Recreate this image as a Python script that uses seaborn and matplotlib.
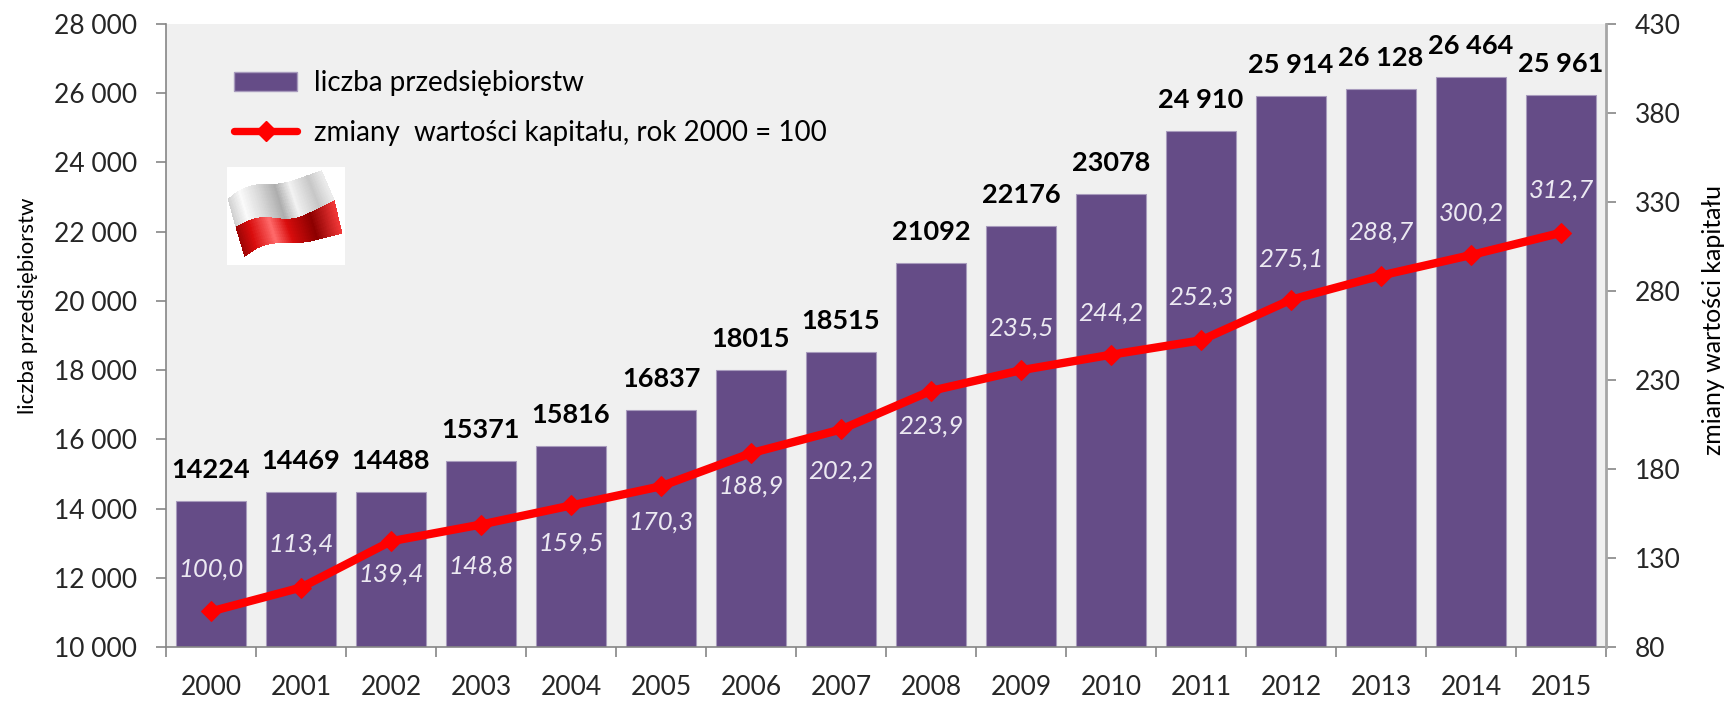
import numpy as np
import pandas as pd
import matplotlib
matplotlib.use("Agg")
import matplotlib.pyplot as plt
from matplotlib.lines import Line2D
from matplotlib.patches import Patch
import seaborn as sns

years = [2000, 2001, 2002, 2003, 2004, 2005, 2006, 2007, 2008, 2009, 2010, 2011, 2012, 2013, 2014, 2015]
firms = [14224, 14469, 14488, 15371, 15816, 16837, 18015, 18515, 21092, 22176, 23078, 24910, 25914, 26128, 26464, 25961]
firm_labels = ["14224", "14469", "14488", "15371", "15816", "16837", "18015", "18515", "21092", "22176", "23078",
               "24 910", "25 914", "26 128", "26 464", "25 961"]
capital = [100.0, 113.4, 139.4, 148.8, 159.5, 170.3, 188.9, 202.2, 223.9, 235.5, 244.2, 252.3, 275.1, 288.7, 300.2, 312.7]
left_ticks = [10000, 12000, 14000, 16000, 18000, 20000, 22000, 24000, 26000, 28000]
right_ticks = [80, 130, 180, 230, 280, 330, 380, 430]
capital_label_offsets = [42, 43, -33, -42, -38, -36, -33, -42, -35, 42, 42, 43, 41, 43, 42, 43]

sns.set_theme(style="white")
plt.rcParams["font.family"] = ["Lato", "DejaVu Sans"]

W, H = 1731, 702
fig = plt.figure(figsize=(W / 100, H / 100), dpi=100, facecolor="white")
ax = fig.add_axes([166 / W, 1 - 647 / H, (1606 - 166) / W, (647 - 24) / H])
ax.set_facecolor("#f0f0f0")

df = pd.DataFrame({"year": [str(y) for y in years], "firms": firms, "capital": capital})
PURPLE = "#654c87"
GREY = "#868686"
TXT = "#262626"
sns.barplot(data=df, x="year", y="firms", color=PURPLE, saturation=1, width=0.77, ax=ax,
            edgecolor="#a89bbd", linewidth=0.8)
ax.set_xlim(-0.5, len(years) - 0.5)
ax.set_ylim(10000, 28000)
ax.set_yticks(left_ticks)
ax.set_yticklabels([f"{t // 1000} 000" for t in left_ticks], fontsize=19, color=TXT)
ax.set_xticks(np.arange(-0.5, len(years), 1), minor=False)
ax.set_xticklabels([])
ax.tick_params(axis="x", which="major", length=7, width=1.2, color=GREY, bottom=True)
ax.tick_params(axis="y", which="major", length=7, width=1.2, color=GREY, left=True, pad=14)
ax.set_xticks(np.arange(len(years)), minor=True)
ax.set_xticklabels([str(y) for y in years], minor=True, fontsize=19, color=TXT)
ax.tick_params(axis="x", which="minor", length=0, pad=20)
ax.set_xlabel("")
ax.set_ylabel("liczba przedsiębiorstw", fontsize=16, color="black", va="center")
ax.yaxis.set_label_coords(-0.0955, 0.548)
for s in ["top", "right"]:
    ax.spines[s].set_visible(False)
for s in ["left", "bottom"]:
    ax.spines[s].set_color(GREY)
    ax.spines[s].set_linewidth(1.2)

ax2 = ax.twinx()
sns.lineplot(data=df, x="year", y="capital", color="#ff0000", linewidth=6, marker="D", markersize=10.5,
             markeredgecolor="#ff0000", ax=ax2, legend=False, sort=False, zorder=5)
ax2.set_ylim(80, 430)
ax2.set_yticks(right_ticks)
ax2.set_yticklabels([str(t) for t in right_ticks], fontsize=19, color=TXT)
ax2.tick_params(axis="y", length=7, width=1.2, color=GREY, right=True, pad=14)
ax2.set_xlabel("")
ax2.set_ylabel("zmiany wartości kapitału", fontsize=18, color="black", rotation=90, va="center")
ax2.yaxis.set_label_coords(1.075, 0.525)
for s in ["top", "left", "bottom"]:
    ax2.spines[s].set_visible(False)
ax2.spines["right"].set_color("#a6a6a6")
ax2.spines["right"].set_linewidth(2)
ax2.grid(False)

for i, (f, lab) in enumerate(zip(firms, firm_labels)):
    ax.annotate(lab, (i, f), xytext=(0, 31), textcoords="offset pixels", ha="center", va="center",
                fontsize=19.5, fontweight="bold", color="black")
for i, (c, off) in enumerate(zip(capital, capital_label_offsets)):
    ax2.annotate(f"{c:.1f}".replace(".", ","), (i, c), xytext=(0, off), textcoords="offset pixels",
                 ha="center", va="center", fontsize=18.5, fontstyle="italic", color="#ece9f2", zorder=6)

handles = [Patch(facecolor=PURPLE, edgecolor="#a89bbd"),
           Line2D([], [], color="#ff0000", lw=5.3, marker="D", ms=10)]
ax.legend(handles, ["liczba przedsiębiorstw", "zmiany  wartości kapitału, rok 2000 = 100"],
          loc="upper left", bbox_to_anchor=(68 / 1440, 1 - 46 / 623), frameon=False, fontsize=20,
          handlelength=2.27, handleheight=0.7, handletextpad=0.6, labelspacing=0.85, labelcolor="black",
          borderpad=0, borderaxespad=0)

# wavy flag picture, drawn as a small inset with a white ground
fx = fig.add_axes([227 / W, 1 - 265 / H, 118 / W, 98 / H], facecolor="white", zorder=7)
fx.set_xlim(0, 1)
fx.set_ylim(0, 1)
fx.axis("off")
fx.add_patch(plt.Rectangle((0, 0), 1, 1, color="white", transform=fx.transAxes))
u = np.linspace(0, 1, 150)
knots = [0, 0.2, 0.6, 1]
edge_top = np.interp(u, knots, [0.68, 0.82, 0.83, 0.966])
edge_mid = np.interp(u, knots, [0.39, 0.50, 0.46, 0.66])
edge_bot = np.interp(u, knots, [0.085, 0.22, 0.22, 0.32])
x_top = 0.01 + 0.79 * u
x_mid = 0.08 + 0.83 * u
x_bot = 0.15 + 0.827 * u
smooth = np.ones(41) / 41
for e in (edge_top, edge_mid, edge_bot):
    e[20:-20] = np.convolve(e, smooth, mode="valid")
X = np.array([x_mid, x_top])
Y = np.array([edge_mid, edge_top])
g = np.interp(u[:-1], [0, 0.12, 0.3, 0.5, 0.65, 0.85, 1], [0.82, 0.98, 0.85, 0.68, 0.95, 0.78, 0.93])
fx.pcolormesh(X, Y, np.dstack([g, g, g]).reshape(1, -1, 3), shading="flat")
X = np.array([x_bot, x_mid])
Y = np.array([edge_bot, edge_mid])
r = np.interp(u[:-1], [0, 0.12, 0.33, 0.5, 0.75, 1], [0.62, 0.85, 1.0, 0.85, 0.55, 0.95])
gb = np.interp(u[:-1], [0, 0.12, 0.33, 0.5, 0.75, 1], [0.02, 0.05, 0.42, 0.05, 0.0, 0.22])
fx.pcolormesh(X, Y, np.dstack([r, gb, gb]).reshape(1, -1, 3), shading="flat")

fig.savefig("out.png", dpi=100, facecolor="white")
